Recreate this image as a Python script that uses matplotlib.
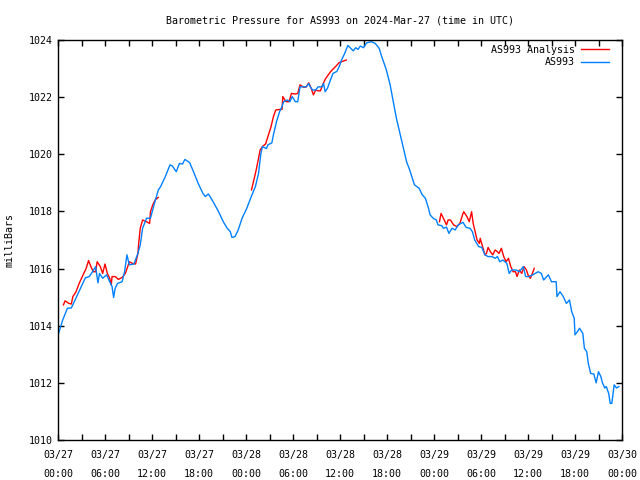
#!/usr/bin/env python3

# Barometric pressure chart, AS993, 2024-Mar-27

import numpy as np
import matplotlib
matplotlib.use('Agg')
import matplotlib.pyplot as plt

start = np.datetime64('2024-03-27T00:00')

# AS993 observations (hours since start, mb)
obs_hours = [0.0, 0.6, 1.2, 1.7, 2.6, 3.5, 4.0, 4.5, 4.8, 5.1, 5.3, 5.7, 6.2, 6.6, 6.9, 7.1, 7.3, 7.6,
             8.2, 8.5, 8.8, 9.1, 9.7, 10.2, 10.5, 10.8, 11.3, 11.8, 12.2, 12.8, 13.1, 13.7, 14.3, 14.6,
             15.1, 15.5, 15.9, 16.2, 16.8, 17.3, 17.9, 18.5, 18.8, 19.2, 19.8, 20.5, 21.1, 21.6, 22.0,
             22.2, 22.6, 23.0, 23.5, 24.1, 24.5, 25.2, 25.6, 25.9, 26.1, 26.6, 26.8, 27.3, 27.5, 27.9,
             28.3, 28.6, 28.8, 29.3, 29.6, 29.9, 30.3, 30.6, 30.9, 31.7, 32.0, 32.2, 32.5, 32.9, 33.2,
             33.7, 33.9, 34.1, 34.4, 34.7, 35.1, 35.6, 35.9, 36.2, 36.6, 37.0, 37.3, 37.7, 38.0, 38.3,
             38.6, 39.0, 39.4, 40.0, 40.5, 41.0, 41.3, 41.6, 41.9, 42.4, 42.8, 43.2, 43.7, 44.1, 44.5,
             44.9, 45.5, 46.1, 46.5, 46.9, 47.3, 47.5, 47.9, 48.3, 48.5, 49.0, 49.2, 49.6, 49.9, 50.3,
             50.7, 51.1, 51.7, 52.1, 52.6, 52.9, 53.2, 53.7, 54.1, 54.5, 54.9, 55.4, 55.8, 56.1, 56.4,
             56.8, 57.3, 57.6, 57.9, 58.5, 58.9, 59.4, 59.7, 60.1, 60.6, 61.3, 61.7, 62.0, 62.6, 63.0,
             63.6, 63.7, 64.1, 64.5, 64.9, 65.3, 65.6, 65.9, 66.0, 66.3, 66.6, 67.0, 67.2, 67.5, 67.7,
             68.0, 68.4, 68.7, 69.0, 69.3, 69.5, 69.8, 70.0, 70.3, 70.5, 70.7, 71.0, 71.3, 71.6]
obs_p = [1013.67, 1014.2, 1014.61, 1014.62, 1015.15, 1015.68, 1015.72, 1015.93, 1016.07, 1015.50,
         1015.83, 1015.66, 1015.78, 1015.54, 1015.37, 1014.99, 1015.31, 1015.48, 1015.54, 1015.89,
         1016.48, 1016.13, 1016.16, 1016.53, 1016.83, 1017.41, 1017.76, 1017.76, 1018.17, 1018.75,
         1018.87, 1019.22, 1019.63, 1019.59, 1019.39, 1019.68, 1019.66, 1019.82, 1019.71, 1019.39,
         1018.98, 1018.63, 1018.52, 1018.61, 1018.34, 1017.99, 1017.64, 1017.41, 1017.29, 1017.09,
         1017.12, 1017.35, 1017.76, 1018.11, 1018.40, 1018.87, 1019.33, 1020.03, 1020.27, 1020.20,
         1020.33, 1020.40, 1020.68, 1021.15, 1021.50, 1021.67, 1021.84, 1021.90, 1021.84, 1022.02,
         1021.84, 1021.84, 1022.36, 1022.36, 1022.48, 1022.36, 1022.25, 1022.25, 1022.36, 1022.36,
         1022.48, 1022.19, 1022.31, 1022.54, 1022.83, 1022.90, 1023.07, 1023.30, 1023.53, 1023.81,
         1023.73, 1023.62, 1023.73, 1023.67, 1023.79, 1023.73, 1023.90, 1023.94, 1023.88, 1023.71,
         1023.44, 1023.21, 1022.97, 1022.43, 1021.84, 1021.26, 1020.68, 1020.21, 1019.74, 1019.45,
         1018.93, 1018.81, 1018.58, 1018.46, 1018.11, 1017.88, 1017.76, 1017.70, 1017.53, 1017.50,
         1017.41, 1017.45, 1017.23, 1017.41, 1017.35, 1017.53, 1017.62, 1017.44, 1017.41, 1017.29,
         1017.00, 1016.77, 1016.74, 1016.48, 1016.42, 1016.42, 1016.36, 1016.42, 1016.24, 1016.30,
         1016.18, 1015.83, 1015.95, 1015.95, 1015.89, 1016.07, 1015.72, 1015.72, 1015.78, 1015.89,
         1015.83, 1015.60, 1015.78, 1015.54, 1015.54, 1015.02, 1015.19, 1015.02, 1014.78, 1014.90,
         1014.49, 1014.26, 1013.68, 1013.79, 1013.91, 1013.73, 1013.21, 1013.09, 1012.68, 1012.33,
         1012.31, 1012.00, 1012.39, 1012.22, 1012.00, 1011.82, 1011.87, 1011.63, 1011.28, 1011.28,
         1011.93, 1011.82, 1011.87]

# AS993 analysis, three runs
ana1_hours = [0.7, 0.9, 1.4, 1.7, 1.9, 2.3, 2.7, 3.2, 3.6, 3.9, 4.2, 4.5, 4.8, 5.0, 5.4, 5.7, 6.0, 6.3,
              6.6, 6.8, 6.9, 7.3, 7.7, 8.2, 8.6, 8.9, 9.1, 9.5, 9.9, 10.2, 10.3, 10.5, 10.8, 11.3, 11.7,
              11.8, 12.1, 12.4, 12.8]
ana1_p = [1014.73, 1014.87, 1014.78, 1014.76, 1015.02, 1015.19, 1015.48, 1015.78, 1016.01, 1016.28,
          1016.07, 1015.89, 1015.89, 1016.24, 1016.07, 1015.83, 1016.16, 1015.83, 1015.66, 1015.43,
          1015.72, 1015.72, 1015.62, 1015.69, 1015.83, 1016.07, 1016.24, 1016.18, 1016.16, 1016.53,
          1016.88, 1017.41, 1017.70, 1017.64, 1017.58, 1017.99, 1018.23, 1018.40, 1018.49]
ana2_hours = [24.7, 24.9, 25.3, 25.6, 25.8, 26.1, 26.5, 26.8, 27.2, 27.5, 27.8, 28.3, 28.6, 28.7, 29.1,
              29.5, 29.8, 30.3, 30.6, 30.9, 31.4, 31.7, 32.0, 32.2, 32.4, 32.6, 32.9, 33.2, 33.5, 33.8,
              34.1, 34.5, 34.8, 35.1, 35.5, 35.9, 36.2, 36.5, 36.8]
ana2_p = [1018.75, 1018.98, 1019.45, 1019.86, 1020.15, 1020.27, 1020.36, 1020.62, 1020.97, 1021.32,
          1021.55, 1021.57, 1021.57, 1022.02, 1021.84, 1021.84, 1022.13, 1022.11, 1022.13, 1022.43,
          1022.34, 1022.36, 1022.50, 1022.39, 1022.25, 1022.08, 1022.25, 1022.22, 1022.22, 1022.43,
          1022.62, 1022.78, 1022.89, 1022.98, 1023.09, 1023.21, 1023.24, 1023.27, 1023.30]
ana3_hours = [48.7, 48.9, 49.2, 49.6, 49.8, 50.1, 50.5, 50.9, 51.3, 51.7, 51.8, 52.2, 52.5, 52.8, 53.0,
              53.2, 53.5, 53.8, 53.9, 54.2, 54.5, 54.7, 54.9, 55.2, 55.5, 55.8, 56.1, 56.3, 56.6, 56.9,
              57.2, 57.5, 57.8, 58.1, 58.4, 58.6, 58.9, 59.2, 59.5, 59.8, 60.0, 60.3, 60.6, 60.8]
ana3_p = [1017.64, 1017.93, 1017.76, 1017.53, 1017.70, 1017.70, 1017.53, 1017.47, 1017.58, 1017.93,
          1017.99, 1017.82, 1017.64, 1017.99, 1017.58, 1017.35, 1017.00, 1016.88, 1017.06, 1016.77,
          1016.48, 1016.53, 1016.74, 1016.59, 1016.48, 1016.65, 1016.59, 1016.53, 1016.71, 1016.42,
          1016.24, 1016.36, 1016.07, 1015.89, 1015.89, 1015.72, 1015.95, 1015.83, 1016.07, 1015.95,
          1015.78, 1015.66, 1015.86, 1016.01]

FONT = 'DejaVu Sans Mono'
RED = '#ff0000'
BLUE = '#0080ff'


def totime(hours):
    return start + (np.array(hours) * 60).astype('timedelta64[m]')


fig = plt.figure(figsize=(6.4, 4.8), dpi=100)
ax = fig.add_axes([58 / 640, 40 / 480, 564 / 640, 400 / 480])

# analysis runs joined with gaps
ana_t = np.concatenate([totime(ana1_hours), [np.datetime64('NaT')],
                        totime(ana2_hours), [np.datetime64('NaT')],
                        totime(ana3_hours)])
ana_v = np.concatenate([ana1_p, [np.nan], ana2_p, [np.nan], ana3_p])
ax.plot(ana_t, ana_v, color=RED, lw=1.0, label='AS993 Analysis')
ax.plot(totime(obs_hours), obs_p, color=BLUE, lw=1.0, label='AS993')

ax.set_xlim(start, start + np.timedelta64(72, 'h'))
ax.set_ylim(1010, 1024)
ax.set_yticks(np.arange(1010, 1025, 2))

ticks = [start + np.timedelta64(h, 'h') for h in range(0, 73, 3)]
labels = []
for i, t in enumerate(ticks):
    if i % 2 == 0:
        s = str(t.astype('datetime64[m]'))
        labels.append(s[5:7] + '/' + s[8:10] + '\n' + s[11:16])
    else:
        labels.append('')
ax.set_xticks(ticks)
ax.set_xticklabels(labels, family=FONT, fontsize=7.2, linespacing=2.1)
for lb in ax.get_yticklabels():
    lb.set_family(FONT)
    lb.set_fontsize(7.2)

ax.tick_params(direction='in', length=4, width=1, top=True, right=True, pad=4)
ax.tick_params(axis='x', pad=7)
for sp in ax.spines.values():
    sp.set_linewidth(1)

ax.set_title('Barometric Pressure for AS993 on 2024-Mar-27 (time in UTC)',
             family=FONT, fontsize=7.2, pad=12)
ax.set_ylabel('milliBars', family=FONT, fontsize=7.2, labelpad=10)

leg = ax.legend(loc='upper right', frameon=False, prop={'family': FONT, 'size': 7.2},
                markerfirst=False, handlelength=2.8, handletextpad=0.6,
                borderaxespad=0.1, labelspacing=0.25,
                bbox_to_anchor=(0.985, 1.0))
for t in leg.get_texts():
    t.set_ha('right')

fig.savefig('out.png', dpi=100)
